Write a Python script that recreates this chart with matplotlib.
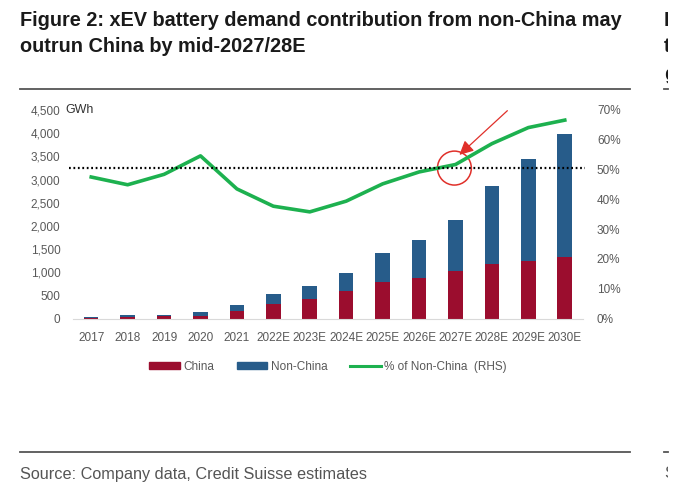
import matplotlib.pyplot as plt
from matplotlib.patches import Ellipse, Rectangle
from matplotlib.lines import Line2D

# Data (GWh and % share)
jaren = ["2017", "2018", "2019", "2020", "2021", "2022E", "2023E", "2024E",
         "2025E", "2026E", "2027E", "2028E", "2029E", "2030E"]
china = [20, 40, 45, 60, 165, 315, 430, 585, 780, 870, 1020, 1170, 1250, 1320]
totaal = [40, 70, 80, 140, 290, 530, 695, 980, 1415, 1695, 2125, 2860, 3445, 3975]
pct_non_china = [47.5, 44.9, 48.4, 54.6, 43.5, 37.7, 35.8, 39.4,
                 45.2, 49.2, 51.7, 58.7, 64.1, 66.6]
drempel = 50.6
non_china = [t - c for t, c in zip(totaal, china)]

# Kleuren
c_china = "#9b0d2e"
c_non = "#275c8a"
c_groen = "#1db14f"
grijs = "#595959"
rood = "#e0302a"

plt.rcParams['font.family'] = ['Liberation Sans', 'DejaVu Sans']

fig = plt.figure(figsize=(6.81, 4.99), dpi=100)
W, H = 681, 499

ax = fig.add_axes([73 / W, 1 - 318.5 / H, 510 / W, 208.5 / H])
x = list(range(len(jaren)))
ax.bar(x, china, width=0.4, color=c_china)
ax.bar(x, non_china, width=0.4, bottom=china, color=c_non)
ax.set_xlim(-0.5, len(jaren) - 0.5)
ax.set_ylim(0, 4500)
ax.set_yticks(range(0, 4501, 500))
ax.set_yticklabels([f"{v:,}" for v in range(0, 4501, 500)])
ax.set_xticks(x)
ax.set_xticklabels(jaren)
for s in ["top", "right", "left"]:
    ax.spines[s].set_visible(False)
ax.spines["bottom"].set_color("#d9d9d9")
ax.tick_params(axis="both", length=0, labelsize=8.5, colors=grijs)
ax.tick_params(axis="x", pad=10)
ax.tick_params(axis="y", pad=9)
ax.text(-0.7, 4500, "GWh", fontsize=9, color="#333333", va="center")

ax2 = ax.twinx()
ax2.plot(x, pct_non_china, color=c_groen, lw=2.6, solid_joinstyle="round")
ax2.axhline(drempel, xmin=-0.008, xmax=1.004, color="black", lw=1.6,
            ls=(0, (0.8, 1.2)), clip_on=False)
ax2.set_ylim(0, 70)
ax2.set_yticks(range(0, 71, 10))
ax2.set_yticklabels([f"{v}%" for v in range(0, 71, 10)])
for s in ["top", "right", "left", "bottom"]:
    ax2.spines[s].set_visible(False)
ax2.tick_params(axis="y", length=0, labelsize=8.5, colors=grijs, pad=10)

# Rode cirkel met pijl
ax2.add_patch(Ellipse((9.97, 50.5), 0.93, 11.4, fill=False, edgecolor=rood, lw=1.1,
                      clip_on=False))
ax2.annotate("", xy=(10.05, 54.3), xytext=(11.48, 70.4),
             arrowprops=dict(arrowstyle="-|>,head_length=0.7,head_width=0.35",
                             color=rood, lw=0.9, mutation_scale=12),
             annotation_clip=False)

# Legenda
handles = [Rectangle((0, 0), 1, 1, color=c_china),
           Rectangle((0, 0), 1, 1, color=c_non),
           Line2D([0], [0], color=c_groen, lw=2.2)]
fig.legend(handles, ["China", "Non-China", "% of Non-China  (RHS)"],
           loc="center", bbox_to_anchor=(328 / W, 1 - 367 / H), ncol=3,
           frameon=False, fontsize=8.5, handlelength=2.6, handleheight=0.55,
           columnspacing=1.9, handletextpad=0.3, labelcolor=grijs)

# Titel, lijnen en bron
titel = ["Figure 2: xEV battery demand contribution from non-China may",
         "outrun China by mid-2027/28E"]
for i, regel in enumerate(titel):
    fig.text(20 / W, 1 - (20 + 27 * i) / H, regel, fontsize=14.3, fontweight="bold",
             va="center", ha="left", color="#1a1a1a")
fig.add_artist(Line2D([20 / W, 630 / W], [1 - 88.5 / H, 1 - 88.5 / H], color="#555555", lw=1.3))
fig.add_artist(Line2D([20 / W, 630 / W], [1 - 451.5 / H, 1 - 451.5 / H], color="#555555", lw=1.3))
fig.text(20 / W, 1 - 474 / H, "Source: Company data, Credit Suisse estimates",
         fontsize=11.7, va="center", ha="left", color="#555555")

# Afgesneden tekst van de volgende kolom
knip = Rectangle((0, 0), 668 / W, 1, transform=fig.transFigure)
for i, letter in enumerate(["I", "t", "g"]):
    t = fig.text(664 / W, 1 - (20 + 27 * i) / H, letter, fontsize=14.3, fontweight="bold",
                 va="center", ha="left", color="#1a1a1a")
    t.set_clip_path(knip)
t = fig.text(664 / W, 1 - 474 / H, "S", fontsize=11.7, va="center", ha="left", color="#555555")
t.set_clip_path(knip)
fig.add_artist(Line2D([664 / W, 668 / W], [1 - 88.5 / H, 1 - 88.5 / H], color="#555555", lw=1.3))
fig.add_artist(Line2D([664 / W, 668 / W], [1 - 451.5 / H, 1 - 451.5 / H], color="#555555", lw=1.3))

plt.savefig("out.png", dpi=100)
